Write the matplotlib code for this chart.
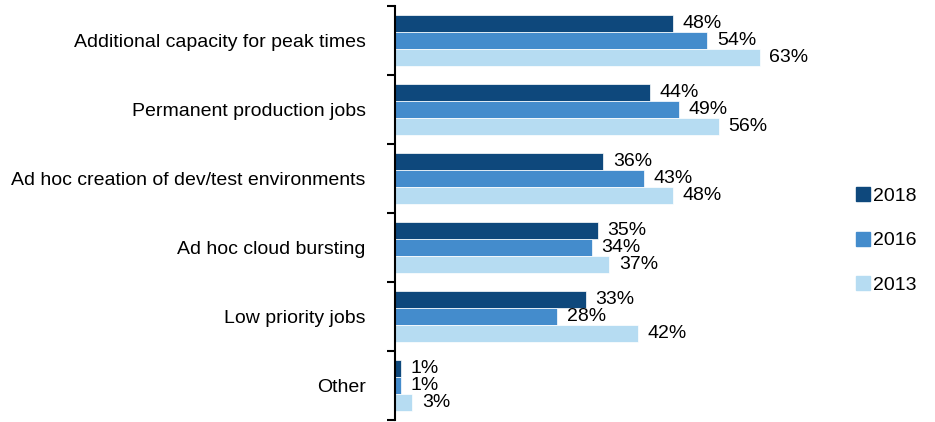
import matplotlib.pyplot as plt
from matplotlib.patches import Patch

plt.rcParams['font.family'] = ['Liberation Sans', 'DejaVu Sans']

# dane
categories = ["Additional capacity for peak times", "Permanent production jobs",
              "Ad hoc creation of dev/test environments", "Ad hoc cloud bursting",
              "Low priority jobs", "Other"]
years = ["2018", "2016", "2013"]
v2018 = [48, 44, 36, 35, 33, 1]
v2016 = [54, 49, 43, 34, 28, 1]
v2013 = [63, 56, 48, 37, 42, 3]
values = [v2018, v2016, v2013]
colors = ["#0E487C", "#448CCC", "#B6DCF2"]

fs = 14
h = 0.25

fig = plt.figure(figsize=(9.35, 4.22), dpi=100)
ax = fig.add_axes([395 / 935, 2 / 422, 405 / 935, 414 / 422])

for i, (vals, c) in enumerate(zip(values, colors)):
    ys = [k + (i - 1) * h for k in range(len(categories))]
    ax.barh(ys, vals, height=h, color=c, edgecolor="white", linewidth=0.5)
    for y, v in zip(ys, vals):
        ax.annotate(f"{v}%", (v, y), xytext=(7, 0), textcoords="offset points",
                    va="center", ha="left", fontsize=fs)

ax.set_xlim(0, 70)
ax.set_ylim(len(categories) - 0.5, -0.5)

# kreski na granicach kategorii, podpisy w srodku
ax.set_yticks([k - 0.5 for k in range(len(categories) + 1)])
ax.set_yticklabels([])
ax.set_yticks(range(len(categories)), minor=True)
ax.set_yticklabels(categories, minor=True, fontsize=fs)
ax.tick_params(axis="y", which="major", length=6, width=1.5, direction="out")
ax.tick_params(axis="y", which="minor", length=0, pad=21)
ax.set_xticks([])

for s in ["top", "right", "bottom"]:
    ax.spines[s].set_visible(False)
ax.spines["left"].set_linewidth(1.5)

handles = [Patch(color=c) for c in colors]
fig.legend(handles, years, loc="center left", bbox_to_anchor=(856 / 935, 0.43),
           frameon=False, fontsize=fs, handlelength=0.72, handleheight=0.72,
           handletextpad=0.15, labelspacing=1.38, borderpad=0, borderaxespad=0)

fig.savefig("out.png", dpi=100)
